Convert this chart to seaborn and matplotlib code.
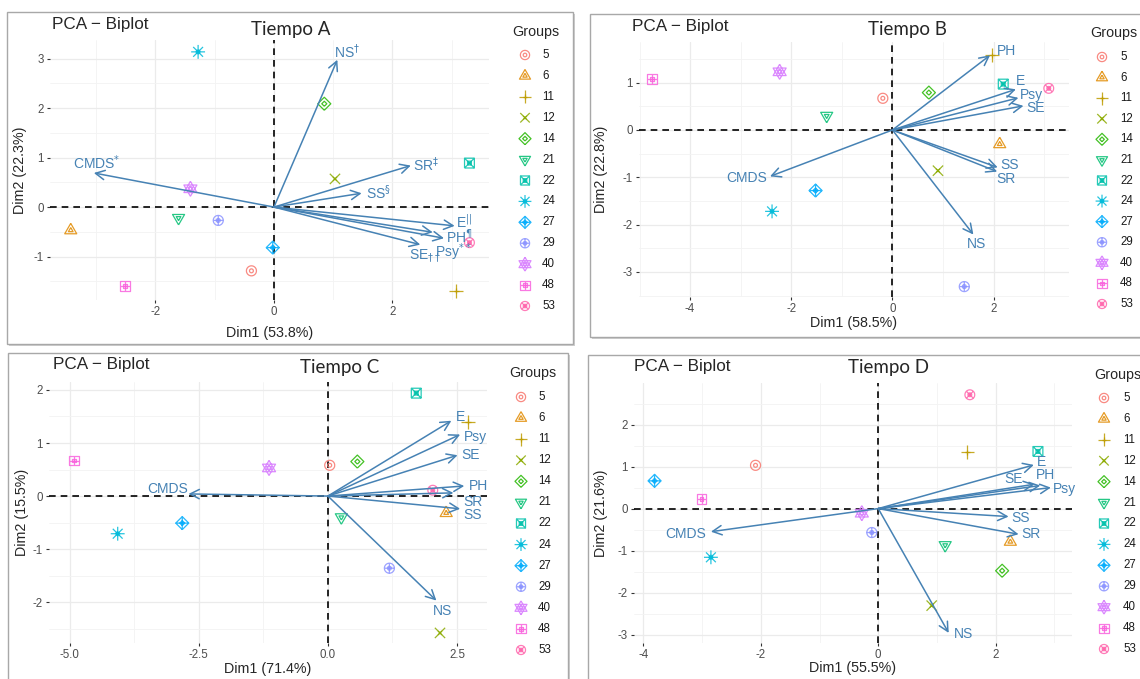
import numpy as np
import pandas as pd
import matplotlib
matplotlib.use('Agg')
import matplotlib.pyplot as plt
import seaborn as sns
from matplotlib.path import Path
from matplotlib.patches import Rectangle
from matplotlib.ticker import MultipleLocator, AutoMinorLocator, FormatStrFormatter

W, H = 1140, 679

# ---- data ----
groups = ['5', '6', '11', '12', '14', '21', '22', '24', '27', '29', '40', '48', '53']
group_colors = ["#F8766D", "#E18A00", "#BE9C00", "#8CAB00", "#24B700", "#00BE70", "#00C1AB",
                "#00BBDA", "#00ACFC", "#8B93FF", "#D575FE", "#F962DD", "#FF65AC"]
variables = ["NS", "CMDS", "SR", "SS", "E", "PH", "Psy", "SE"]
marks_a = [r"$^{\dagger}$", r"$^{*}$", r"$^{\ddagger}$", r"$^{\S}$", r"$^{||}$", r"$^{\P}$",
           r"$^{**}$", r"$_{\dagger\dagger}$"]

# Tiempo A
a_ind_x = [-0.38, -3.43, 3.08, 1.03, 0.85, -1.61, 3.30, -1.28, -0.02, -0.94, -1.41, -2.51, 3.30]
a_ind_y = [-1.29, -0.47, -1.69, 0.57, 2.09, -0.22, 0.89, 3.14, -0.82, -0.27, 0.37, -1.60, -0.72]
a_var_x = [1.07, -3.04, 2.31, 1.48, 3.05, 2.87, 2.68, 2.47]
a_var_y = [2.98, 0.69, 0.84, 0.28, -0.38, -0.63, -0.51, -0.76]

# Tiempo B
b_ind_x = [-0.19, 2.12, 1.97, 0.90, 0.72, -1.30, 2.19, -2.38, -1.52, 1.42, -2.23, -4.75, 3.09]
b_ind_y = [0.67, -0.30, 1.58, -0.86, 0.79, 0.30, 0.97, -1.72, -1.28, -3.31, 1.23, 1.07, 0.88]
b_var_x = [1.60, -2.42, 2.07, 2.08, 2.44, 1.93, 2.49, 2.59]
b_var_y = [-2.21, -0.98, -0.88, -0.79, 0.86, 1.58, 0.68, 0.51]

# Tiempo C
c_ind_x = [0.035, 2.29, 2.71, 2.17, 0.57, 0.26, 1.71, -4.07, -2.82, 1.19, -1.14, -4.92, 2.03]
c_ind_y = [0.58, -0.32, 1.40, -2.58, 0.65, -0.40, 1.94, -0.71, -0.51, -1.36, 0.53, 0.67, 0.11]
c_var_x = [2.10, -2.70, 2.43, 2.56, 2.39, 2.64, 2.56, 2.51]
c_var_y = [-1.97, 0.04, 0.06, -0.24, 1.42, 0.19, 1.16, 0.77]

# Tiempo D
d_ind_x = [-2.09, 2.25, 1.52, 0.91, 2.11, 1.14, 2.72, -2.85, -3.81, -0.11, -0.28, -3.01, 1.56]
d_ind_y = [1.03, -0.79, 1.34, -2.31, -1.48, -0.87, 1.36, -1.16, 0.66, -0.57, -0.11, 0.22, 2.71]
d_var_x = [1.20, -2.85, 2.39, 2.22, 2.65, 2.76, 2.94, 2.66]
d_var_y = [-2.96, -0.55, -0.61, -0.19, 1.04, 0.55, 0.50, 0.58]

dim_pct = {'A': (53.8, 22.3), 'B': (58.5, 22.8), 'C': (71.4, 15.5), 'D': (55.5, 21.6)}

# ---- style ----
sns.set_theme(style='white')
plt.rcParams['font.family'] = ['Liberation Sans', 'DejaVu Sans']
palette = sns.color_palette(group_colors)
ARROW = '#4682B4'
TIEMPO_FONT = ['Lato', 'DejaVu Sans']

# ggplot-like shapes 1..13 as marker paths
MV, LN = Path.MOVETO, Path.LINETO
def shape(*lines):
    verts, codes = [], []
    for line in lines:
        for i, p in enumerate(line):
            verts.append(p)
            codes.append(MV if i == 0 else LN)
    return Path(verts, codes)

s = 0.7071
t = np.linspace(0, 2 * np.pi, 41)
circle = list(zip(np.cos(t), np.sin(t)))
tri_up = [(0, 1), (-0.866, -0.5), (0.866, -0.5), (0, 1)]
tri_dn = [(0, -1), (-0.866, 0.5), (0.866, 0.5), (0, -1)]
square = [(-s, -s), (s, -s), (s, s), (-s, s), (-s, -s)]
diamond = [(0, -1), (1, 0), (0, 1), (-1, 0), (0, -1)]
plus_l = [[(-1, 0), (1, 0)], [(0, -1), (0, 1)]]
plus_s = [[(-s, 0), (s, 0)], [(0, -s), (0, s)]]
cross = [[(-s, -s), (s, s)], [(-s, s), (s, -s)]]

markers = [
    shape(circle), shape(tri_up), shape(*plus_l), shape(*cross), shape(diamond), shape(tri_dn),
    shape(square, *cross), shape(*plus_l, *cross), shape(diamond, *plus_l), shape(circle, *plus_l),
    shape(tri_up, tri_dn), shape(square, *plus_s), shape(circle, *cross),
]
# outer marker area (pt^2) per shape so the drawn glyphs match the ggplot sizes
marker_area = [52, 100, 100, 55, 88, 100, 50, 100, 88, 52, 117, 50, 50]
INNER, LW, ALPHA = 0.15, 0.9, 0.85

panels = [
    dict(key='A', ix=a_ind_x, iy=a_ind_y, vx=a_var_x, vy=a_var_y,
         labels=[v + m for v, m in zip(variables, marks_a)],
         offs=[(10, 8), (3, 10), (15, 1), (17, 1), (10, 4), (15, 2), (21, -20), (5, -11)],
         box=(7, 12, 573, 344), area=(50, 40, 489, 300), xlim=(-3.78, 3.63), ylim=(-1.88, 3.38),
         xstep=2, fmt='%d', title=(52, 24), tiempo=(291, 29), xlab_y=333, ylab_x=20,
         legend=(512, 32, 525, 542, 55, 306)),
    dict(key='B', ix=b_ind_x, iy=b_ind_y, vx=b_var_x, vy=b_var_y, labels=variables,
         offs=[(3, -9), (-23, -2), (9, -7), (12, 2), (5, 8), (16, 4), (13, 3), (12, -2)],
         box=(590, 14, 1145, 337), area=(639, 42, 1069, 297), xlim=(-5.01, 3.49), ylim=(-3.53, 1.86),
         xstep=2, fmt='%d', title=(632, 27), tiempo=(907, 29), xlab_y=323, ylab_x=601,
         legend=(1090, 33, 1102, 1120, 57, 304)),
    dict(key='C', ix=c_ind_x, iy=c_ind_y, vx=c_var_x, vy=c_var_y, labels=variables,
         offs=[(6, -10), (-21, 5), (20, -9), (12, -6), (9, 4), (14, 0), (15, -2), (13, 0)],
         box=(8, 353, 568, 684), area=(49, 382, 487, 643), xlim=(-5.4, 3.08), ylim=(-2.77, 2.15),
         xstep=2.5, fmt='%.1f', title=(53, 365), tiempo=(340, 367), xlab_y=669, ylab_x=22,
         legend=(509, 373, 521, 538, 397, 650)),
    dict(key='D', ix=d_ind_x, iy=d_ind_y, vx=d_var_x, vy=d_var_y, labels=variables,
         offs=[(15, -1), (-25, -2), (12, 0), (12, -1), (8, 3), (5, 10), (14, -1), (-21, 5)],
         box=(588, 355, 1145, 684), area=(634, 383, 1072, 643), xlim=(-4.16, 3.30), ylim=(-3.2, 2.99),
         xstep=2, fmt='%d', title=(634, 367), tiempo=(889, 367), xlab_y=668, ylab_x=601,
         legend=(1094, 375, 1104, 1123, 398, 649)),
]

fig = plt.figure(figsize=(W / 100, H / 100), dpi=100)
fig.patch.set_facecolor('white')

def fx(x):
    return x / W

def fy(y):
    return 1 - y / H

def rect(l, t, r, b):
    return [fx(l), fy(b), (r - l) / W, (b - t) / H]

def draw_point(ax, data, i, scale=1.0, **kw):
    # ggplot draws each group's point twice (individual + group mean), giving a doubled glyph
    for size in (marker_area[i] * scale, marker_area[i] * scale * INNER):
        sns.scatterplot(data=data, x='x', y='y', ax=ax, marker=markers[i], s=size, color=palette[i],
                        facecolor='none', edgecolor=palette[i], linewidth=LW, alpha=ALPHA,
                        legend=False, **kw)

for p in panels:
    l, t_, r, b = p['box']
    fig.patches.append(Rectangle((fx(l + 2), fy(b + 2)), (r - l) / W, (b - t_) / H,
                                 transform=fig.transFigure, facecolor='#CFCFCF', edgecolor='none', zorder=-3))
    fig.patches.append(Rectangle((fx(l), fy(b)), (r - l) / W, (b - t_) / H, transform=fig.transFigure,
                                 facecolor='white', edgecolor='#A8A8A8', lw=1.0, zorder=-2))

    ax = fig.add_axes(rect(*p['area']))
    ax.patch.set_alpha(0)
    ax.set_xlim(*p['xlim'])
    ax.set_ylim(*p['ylim'])
    ax.xaxis.set_major_locator(MultipleLocator(p['xstep']))
    ax.xaxis.set_minor_locator(AutoMinorLocator(2))
    ax.yaxis.set_major_locator(MultipleLocator(1))
    ax.yaxis.set_minor_locator(AutoMinorLocator(2))
    ax.xaxis.set_major_formatter(FormatStrFormatter(p['fmt']))
    ax.yaxis.set_major_formatter(FormatStrFormatter('%d'))
    ax.grid(True, which='major', color='#EBEBEB', lw=0.9)
    ax.grid(True, which='minor', color='#F3F3F3', lw=0.6)
    ax.set_axisbelow(True)
    for sp in ax.spines.values():
        sp.set_visible(False)
    ax.tick_params(which='major', direction='out', length=2.5, width=0.8, color='#333333',
                   labelsize=8.3, labelcolor='#4D4D4D', pad=2, bottom=True, left=True)
    ax.tick_params(which='minor', length=0)

    ax.axhline(0, color='black', lw=1.2, ls=(0, (4, 3)), zorder=1)
    ax.axvline(0, color='black', lw=1.2, ls=(0, (4, 3)), zorder=1)

    # individuals
    df = pd.DataFrame({'x': p['ix'], 'y': p['iy'], 'group': groups})
    for i, g in enumerate(groups):
        draw_point(ax, df[df['group'] == g], i, zorder=3)

    # variable arrows
    for vx, vy, lab, off in zip(p['vx'], p['vy'], p['labels'], p['offs']):
        ax.annotate('', xy=(vx, vy), xytext=(0, 0),
                    arrowprops=dict(arrowstyle='->,head_length=0.55,head_width=0.28', color=ARROW,
                                    lw=1.1, shrinkA=0, shrinkB=0, mutation_scale=12), zorder=4)
        ax.annotate(lab, xy=(vx, vy), xytext=off, textcoords='offset pixels', ha='center', va='center',
                    color=ARROW, fontsize=10, zorder=5)
    ax.set_xlabel('')
    ax.set_ylabel('')

    al, at, ar, ab = p['area']
    px_, py_ = dim_pct[p['key']]
    fig.text(fx((al + ar) / 2), fy(p['xlab_y']), f'Dim1 ({px_}%)', ha='center', va='center', fontsize=10.3)
    fig.text(fx(p['ylab_x']), fy((at + ab) / 2), f'Dim2 ({py_}%)', ha='center', va='center',
             rotation=90, fontsize=10.3)
    fig.text(fx(p['title'][0]), fy(p['title'][1]), 'PCA \u2212 Biplot', ha='left', va='center', fontsize=12.3)
    fig.text(fx(p['tiempo'][0]), fy(p['tiempo'][1]), f"Tiempo {p['key']}", ha='center', va='center',
             fontsize=13.5, family=TIEMPO_FONT)

    # legend
    gx, gy, mx, lx, r0, r1 = p['legend']
    fig.text(fx(gx), fy(gy), 'Groups', ha='left', va='center', fontsize=10.3)
    lax = fig.add_axes(rect(mx - 10, r0, mx + 40, r1))
    lax.set_xlim(mx - 10, mx + 40)
    lax.set_ylim(len(groups) - 1, 0)
    lax.axis('off')
    leg = pd.DataFrame({'x': [mx] * len(groups), 'y': np.arange(len(groups)), 'group': groups})
    for i, g in enumerate(groups):
        draw_point(lax, leg[leg['group'] == g], i, scale=0.85, clip_on=False)
        lax.text(lx, i, g, ha='left', va='center', fontsize=8.3, color='#1A1A1A', clip_on=False)
    lax.set_xlabel('')
    lax.set_ylabel('')

fig.savefig('out.png', dpi=100, facecolor='white')
